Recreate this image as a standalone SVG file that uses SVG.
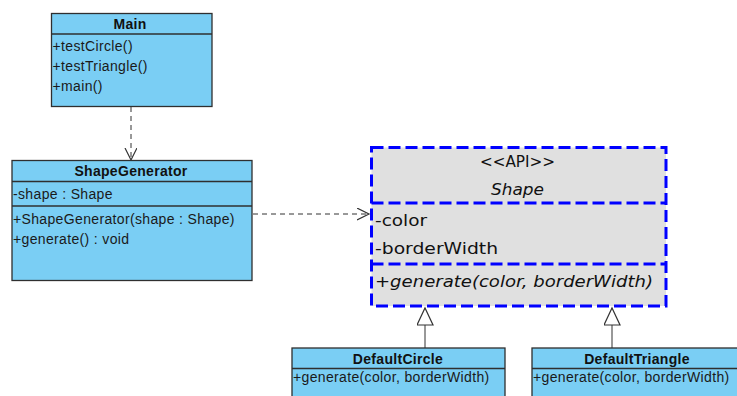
<svg xmlns="http://www.w3.org/2000/svg" width="737" height="396" viewBox="0 0 737 396">
<style>
.cls{fill:#7acef4;stroke:#2f2f2f;stroke-width:1.3}
.sep{stroke:#2f2f2f;stroke-width:1.3}
.t{font-family:"Liberation Sans",Arial,sans-serif;font-size:14px;letter-spacing:0.35px;fill:#1a1a1a}
.h{font-family:"Liberation Sans",Arial,sans-serif;font-size:14px;letter-spacing:0.3px;font-weight:bold;fill:#111;text-anchor:middle}
.api{fill:#e0e0e0;stroke:#0000ff;stroke-width:3;stroke-dasharray:12 5}
.apis{stroke:#0000ff;stroke-width:3;stroke-dasharray:12 5}
.c{font-family:"Comic Sans MS","DejaVu Sans",sans-serif;font-size:16px;fill:#111}
.dep{stroke:#333;stroke-width:1;fill:none;stroke-dasharray:5 4}
.line{stroke:#333;stroke-width:1;fill:none}
</style>
<defs>
<marker id="open" markerWidth="14" markerHeight="14" refX="12" refY="6" orient="auto" markerUnits="userSpaceOnUse">
<path d="M0,0 L12,6 L0,12" fill="none" stroke="#333" stroke-width="1.2"/>
</marker>
<marker id="gen" markerWidth="20" markerHeight="20" refX="18" refY="8" orient="auto" markerUnits="userSpaceOnUse">
<path d="M1,0 L18,8 L1,16 Z" fill="#fff" stroke="#333" stroke-width="1.2"/>
</marker>
</defs>
<g id="connectors">
<line class="dep" x1="131" y1="107" x2="131" y2="160" marker-end="url(#open)"/>
<line class="dep" x1="253" y1="214" x2="369" y2="214" marker-end="url(#open)"/>
<line class="line" x1="425" y1="348" x2="425" y2="308" marker-end="url(#gen)"/>
<line class="line" x1="612" y1="348" x2="612" y2="308" marker-end="url(#gen)"/>
</g>
<g id="Main">
<rect class="cls" x="51.5" y="13.5" width="160.5" height="93"/>
<line class="sep" x1="51.5" y1="34" x2="212" y2="34"/>
<text class="h" x="130" y="28.5">Main</text>
<text class="t" x="52.5" y="51">+testCircle()</text>
<text class="t" x="52.5" y="71">+testTriangle()</text>
<text class="t" x="52.5" y="91">+main()</text>
</g>
<g id="ShapeGenerator">
<rect class="cls" x="12" y="160.5" width="240" height="120"/>
<line class="sep" x1="12" y1="181.5" x2="252" y2="181.5"/>
<line class="sep" x1="12" y1="206" x2="252" y2="206"/>
<text class="h" x="131" y="176">ShapeGenerator</text>
<text class="t" x="13" y="198.5">-shape : Shape</text>
<text class="t" x="13" y="223.5">+ShapeGenerator(shape : Shape)</text>
<text class="t" x="13" y="244">+generate() : void</text>
</g>
<g id="Shape">
<rect class="api" x="371.5" y="147.5" width="294.5" height="158.5"/>
<line class="apis" x1="371.5" y1="203" x2="666" y2="203"/>
<line class="apis" x1="371.5" y1="264" x2="666" y2="264"/>
<text class="c" x="480" y="167" textLength="75" lengthAdjust="spacingAndGlyphs">&lt;&lt;API&gt;&gt;</text>
<text class="c" x="491" y="195" font-style="italic" textLength="53" lengthAdjust="spacingAndGlyphs">Shape</text>
<text class="c" x="375" y="226" textLength="52" lengthAdjust="spacingAndGlyphs">-color</text>
<text class="c" x="375" y="254" textLength="123" lengthAdjust="spacingAndGlyphs">-borderWidth</text>
<text class="c" x="375" y="287" font-style="italic" textLength="278" lengthAdjust="spacingAndGlyphs">+generate(color, borderWidth)</text>
</g>
<g id="DefaultCircle">
<rect class="cls" x="292" y="348" width="213" height="60"/>
<line class="sep" x1="292" y1="368.5" x2="505" y2="368.5"/>
<text class="h" x="398" y="363.5">DefaultCircle</text>
<text class="t" x="293" y="382">+generate(color, borderWidth)</text>
</g>
<g id="DefaultTriangle">
<rect class="cls" x="532" y="348" width="213" height="60"/>
<line class="sep" x1="532" y1="368.5" x2="745" y2="368.5"/>
<text class="h" x="637" y="363.5">DefaultTriangle</text>
<text class="t" x="533" y="382">+generate(color, borderWidth)</text>
</g>
</svg>
